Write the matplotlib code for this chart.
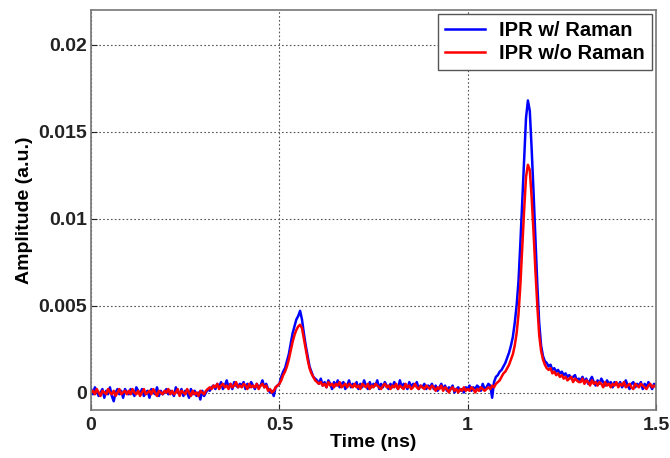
import numpy as np
import matplotlib
matplotlib.use('Agg')
import matplotlib.pyplot as plt

# time axis, 0 to 1.5 ns sampled every 5 ps
time_ns = np.linspace(0, 1.5, 301)

# amplitudes, in units of 1e-4 a.u. (one row = 0.1 ns)
ipr_raman = [
    2, -1, 3, 1, -2, 0, 2, -3, 1, -1, 3, -2, -5, 0, 2, -1, 1, -3, 2, 0,
    -1, 2, 0, -2, 3, 1, -1, 2, -2, 0, 1, -3, 2, 0, -1, 3, -2, 1, -1, 0,
    2, -1, 1, 0, -2, 3, 0, -1, 2, -2, 1, 0, -3, 2, -1, 1, -2, 0, -4, 1,
    -2, 0, 2, 1, 3, 4, 2, 5, 3, 6, 2, 4, 7, 3, 5, 2, 6, 4, 3, 5,
    4, 6, 2, 5, 3, 6, 4, 2, 5, 3, 4, 7, 3, 5, 2, 0, 1, -2, 3, 4,
    5, 9, 12, 14, 18, 22, 28, 34, 38, 42, 44, 47, 42, 34, 27, 21, 15, 12, 9, 8,
    7, 5, 8, 4, 6, 3, 7, 5, 2, 6, 4, 7, 3, 5, 6, 2, 4, 7, 3, 5,
    4, 6, 2, 5, 3, 7, 4, 2, 6, 3, 5, 4, 7, 2, 5, 3, 6, 4, 2, 5,
    3, 6, 4, 2, 7, 3, 5, 4, 2, 6, 3, 5, 4, 6, 2, 4, 3, 5, 2, 4,
    3, 5, 2, 4, 1, 3, 5, 2, 4, 1, 3, 2, 4, 0, 2, 3, 1, 2, 0, 3,
    2, 4, 1, 3, 2, 4, 3, 1, 5, 2, 3, 5, 4, -3, 6, 9, 10, 12, 13, 15,
    17, 20, 23, 27, 32, 40, 50, 64, 86, 110, 135, 158, 168, 162, 140, 115, 88, 62, 40, 27,
    21, 18, 17, 15, 16, 13, 14, 12, 13, 11, 12, 10, 11, 9, 10, 8, 9, 10, 7, 8,
    7, 9, 6, 8, 5, 7, 9, 6, 4, 7, 5, 8, 6, 4, 7, 5, 6, 3, 6, 5,
    4, 6, 3, 5, 7, 4, 2, 5, 6, 3, 5, 4, 6, 2, 5, 3, 6, 4, 2, 5,
    4,
]
ipr_no_raman = [
    0, 1, -1, 2, 0, -2, 1, 0, -1, 2, 0, -1, 1, -2, 0, 2, -1, 0, 1, -1,
    1, -1, 2, 0, -1, 1, -2, 0, 2, -1, 0, 1, -1, 2, 0, -2, 1, 0, -1, 1,
    0, 2, -1, 1, -1, 0, 2, -2, 1, 0, -1, 2, 0, -2, 1, -1, 0, -2, 1, 0,
    -1, 1, 2, 3, 2, 4, 3, 5, 2, 4, 5, 3, 4, 2, 5, 3, 4, 6, 3, 4,
    3, 5, 4, 2, 5, 3, 4, 3, 5, 2, 4, 5, 3, 4, 1, 2, 0, 1, 3, 4,
    5, 7, 10, 12, 15, 19, 24, 29, 33, 36, 38, 39, 37, 31, 25, 19, 14, 11, 9, 7,
    6, 5, 6, 4, 5, 3, 6, 4, 5, 3, 5, 4, 6, 3, 4, 5, 3, 5, 4, 3,
    5, 3, 4, 2, 5, 4, 3, 5, 2, 4, 3, 5, 4, 3, 2, 4, 5, 3, 4, 2,
    4, 3, 5, 2, 4, 3, 2, 5, 3, 4, 2, 3, 5, 3, 2, 4, 3, 2, 4, 3,
    2, 4, 3, 1, 3, 2, 4, 1, 3, 2, 0, 2, 3, 1, 2, 0, 2, 1, 3, 1,
    2, 1, 3, 2, 0, 2, 1, 3, 2, 1, 2, 3, 2, 4, 3, 5, 6, 7, 9, 11,
    12, 14, 16, 19, 22, 27, 34, 45, 62, 84, 105, 124, 131, 128, 112, 92, 70, 50, 33, 24,
    19, 16, 14, 13, 14, 11, 12, 10, 11, 9, 10, 8, 9, 7, 8, 9, 6, 8, 7, 6,
    6, 8, 5, 7, 6, 4, 7, 5, 6, 4, 6, 5, 3, 6, 4, 5, 3, 5, 4, 6,
    3, 5, 4, 6, 3, 4, 5, 3, 2, 5, 4, 3, 5, 4, 3, 2, 4, 5, 3, 4,
    3,
]
series_labels = ['IPR w/ Raman', 'IPR w/o Raman']
x_ticks = [0, 0.5, 1, 1.5]
y_ticks = [0, 0.005, 0.01, 0.015, 0.02]

plt.rcParams['font.family'] = ['Liberation Sans', 'DejaVu Sans']
plt.rcParams['font.weight'] = 'bold'

fig = plt.figure(figsize=(6.7, 4.58), dpi=100)
ax = fig.add_axes([0.136, 0.105, 0.843, 0.873])

ax.plot(time_ns, np.array(ipr_raman) * 1e-4, color='#0000ff', lw=1.8, label=series_labels[0])
ax.plot(time_ns, np.array(ipr_no_raman) * 1e-4, color='#ff0000', lw=1.8, label=series_labels[1])

ax.set_xlim(0, 1.5)
ax.set_ylim(-0.001, 0.022)
ax.set_xticks(x_ticks)
ax.set_xticklabels(['0', '0.5', '1', '1.5'])
ax.set_yticks(y_ticks)
ax.set_yticklabels(['0', '0.005', '0.01', '0.015', '0.02'])
ax.tick_params(direction='in', length=4, labelsize=14, colors='#222222')
ax.tick_params(axis='y', pad=3)
ax.tick_params(axis='x', pad=5)
ax.grid(True, linestyle=(0, (1.5, 2)), color='#555555', lw=0.8)
for sp in ax.spines.values():
    sp.set_color('#777777')
    sp.set_linewidth(1.2)

ax.set_xlabel('Time (ns)', fontsize=14, fontweight='bold', labelpad=0)
ax.set_ylabel('Amplitude (a.u.)', fontsize=14, fontweight='bold', labelpad=4)

leg = ax.legend(loc='upper right', fontsize=14.5, fancybox=False, framealpha=1,
                edgecolor='#555555', borderaxespad=0.2, handlelength=2.0,
                handletextpad=0.7, borderpad=0.35, labelspacing=0.2)
leg.get_frame().set_linewidth(1.0)

fig.savefig('out.png', dpi=100)
